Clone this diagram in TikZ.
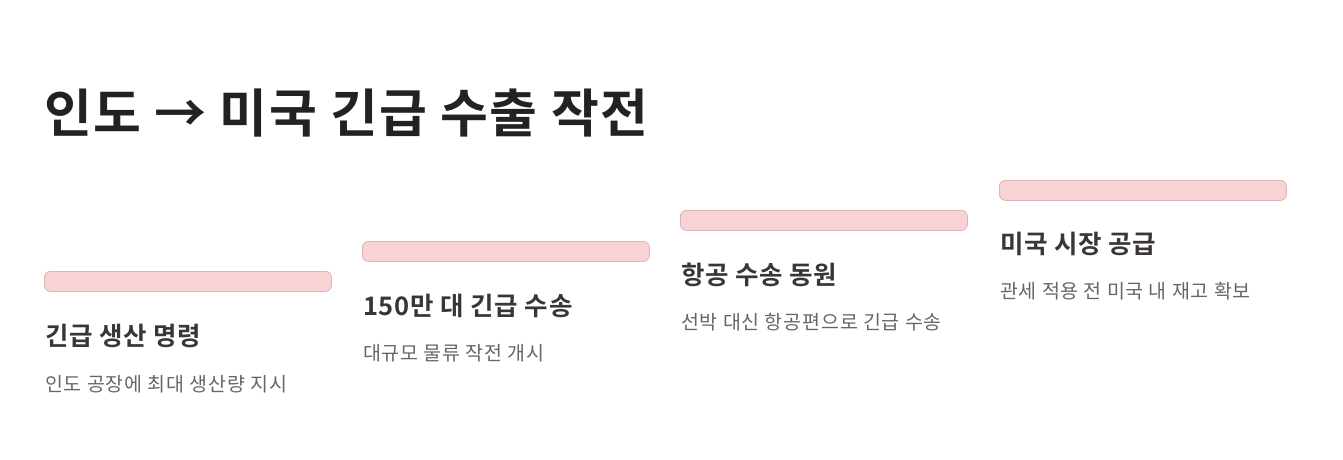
\documentclass[tikz,border=0pt]{standalone}
\usepackage{fontspec}
\setmainfont{Noto Sans CJK KR}[BoldFont={* Bold}]
\newfontfamily\titlefont{Noto Sans CJK KR}[BoldFont={* Bold}, LetterSpace=2.8]
\newfontfamily\headfont{Noto Sans CJK KR}[BoldFont={* Bold}, LetterSpace=3]
\newfontfamily\subfont{Noto Sans CJK KR}[LetterSpace=4.2]
\definecolor{titlec}{HTML}{222222}
\definecolor{headc}{HTML}{3A3536}
\definecolor{subc}{HTML}{666666}
\definecolor{barfill}{HTML}{F8D3D6}
\definecolor{barline}{HTML}{DDB3B6}
\tikzset{
  bar/.style={draw=barline, fill=barfill, line width=0.8pt, rounded corners=6pt, minimum width=287pt, minimum height=20pt, inner sep=0pt, anchor=north west},
  head/.style={anchor=west, inner sep=0pt, text=headc, font=\headfont\bfseries\fontsize{25.5}{30}\selectfont},
  sub/.style={anchor=west, inner sep=0pt, text=subc, font=\subfont\fontsize{19.5}{23}\selectfont},
}
\begin{document}
\begin{tikzpicture}[x=1pt,y=-1pt]
\useasboundingbox (0,0) rectangle (1343,459);
\node[anchor=west, inner sep=0pt, text=titlec, font=\titlefont\bfseries\fontsize{52}{60}\selectfont] (title) at (44,113) {인도 → 미국 긴급 수출 작전};
\node[bar] (b1) at (44,271) {};
\node[head] (h1) at (45,336) {긴급 생산 명령};
\node[sub] (s1) at (45,384) {인도 공장에 최대 생산량 지시};
\node[bar] (b2) at (362,241) {};
\node[head] (h2) at (363,306) {150만 대 긴급 수송};
\node[sub] (s2) at (363,353) {대규모 물류 작전 개시};
\node[bar] (b3) at (680,210) {};
\node[head] (h3) at (681,275) {항공 수송 동원};
\node[sub] (s3) at (681,322) {선박 대신 항공편으로 긴급 수송};
\node[bar] (b4) at (999,180) {};
\node[head] (h4) at (1000,244) {미국 시장 공급};
\node[sub] (s4) at (1000,291) {관세 적용 전 미국 내 재고 확보};
\end{tikzpicture}
\end{document}
